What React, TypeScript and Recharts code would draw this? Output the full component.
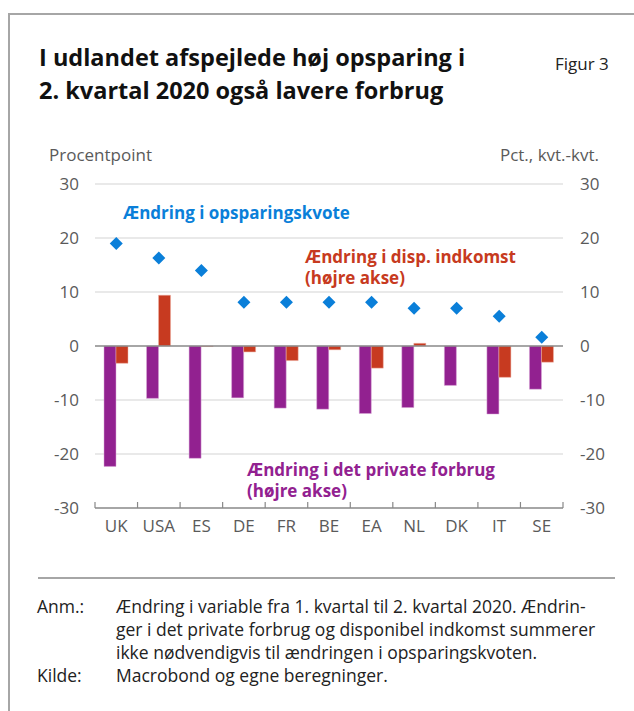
import React from "react";
import {
  ComposedChart,
  Bar,
  Line,
  XAxis,
  YAxis,
  CartesianGrid,
  ReferenceLine,
} from "recharts";

const countries = ["UK", "USA", "ES", "DE", "FR", "BE", "EA", "NL", "DK", "IT", "SE"];
// Ændring i opsparingskvote (venstre akse, procentpoint)
const savingsChange = [19.0, 16.3, 14.0, 8.1, 8.1, 8.1, 8.1, 7.0, 7.0, 5.5, 1.6];
// Ændring i det private forbrug (højre akse, pct. kvt.-kvt.)
const consumptionChange = [-22.3, -9.7, -20.8, -9.6, -11.5, -11.7, -12.5, -11.4, -7.3, -12.6, -8.0];
// Ændring i disp. indkomst (højre akse)
const incomeChange = [-3.2, 9.4, -0.1, -1.1, -2.7, -0.7, -4.1, 0.5, 0.0, -5.8, -3.0];
const yTicks = [-30, -20, -10, 0, 10, 20, 30];

const BLUE = "#0a7fd9";
const RED = "#c73a20";
const PURPLE = "#922190";
const GREY_TEXT = "#5a5a5a";
const FONT = "'Open Sans', 'DejaVu Sans', sans-serif";

const data = countries.map((c, i) => ({
  country: c,
  save: savingsChange[i],
  cons: consumptionChange[i],
  inc: incomeChange[i],
}));

const PLOT_LEFT = 95;
const PLOT_RIGHT = 563;
const HALF_BAND = (PLOT_RIGHT - PLOT_LEFT) / countries.length / 2;

const Diamond = (props: any) => {
  const { cx, cy } = props;
  if (cx == null || cy == null) return null;
  const r = 6.5;
  return (
    <polygon
      points={`${cx},${cy - r} ${cx + r},${cy} ${cx},${cy + r} ${cx - r},${cy}`}
      fill={BLUE}
    />
  );
};

const CountryTick = (props: any) => {
  const { x, y, payload, index } = props;
  const last = index === countries.length - 1;
  return (
    <g>
      <line x1={x - HALF_BAND} x2={x - HALF_BAND} y1={y - 14} y2={y - 8} stroke="#888" strokeWidth={1.2} />
      {last && (
        <line x1={x + HALF_BAND} x2={x + HALF_BAND} y1={y - 14} y2={y - 8} stroke="#888" strokeWidth={1.2} />
      )}
      <text x={x} y={y + 16} textAnchor="middle" fill={GREY_TEXT} fontSize={17} fontFamily={FONT}>
        {payload.value}
      </text>
    </g>
  );
};

export default function App() {
  const tickStyle = { fill: GREY_TEXT, fontSize: 17, fontFamily: FONT };
  return (
    <div
      style={{
        position: "absolute",
        left: 0,
        top: 0,
        width: 634,
        height: 711,
        background: "#fff",
        fontFamily: FONT,
        overflow: "hidden",
      }}
    >
      <div
        style={{
          position: "absolute",
          left: 8,
          top: 13,
          width: 640,
          height: 710,
          borderLeft: "2px solid #a6a6a6",
          borderTop: "2px solid #a6a6a6",
        }}
      />
      <div
        style={{
          position: "absolute",
          left: 39,
          top: 41,
          fontSize: 23.5,
          fontWeight: 700,
          lineHeight: "32.6px",
          color: "#111",
          whiteSpace: "nowrap",
        }}
      >
        I udlandet afspejlede høj opsparing i
        <br />
        2. kvartal 2020 også lavere forbrug
      </div>
      <div style={{ position: "absolute", left: 555, top: 52, fontSize: 17, lineHeight: "24px", color: "#222" }}>Figur 3</div>
      <div style={{ position: "absolute", left: 49, top: 143, fontSize: 17, lineHeight: "24px", color: GREY_TEXT }}>Procentpoint</div>
      <div style={{ position: "absolute", right: 35, top: 143, fontSize: 17, lineHeight: "24px", color: GREY_TEXT }}>Pct., kvt.-kvt.</div>

      <div style={{ position: "absolute", left: 0, top: 0 }}>
        <ComposedChart
          width={634}
          height={560}
          data={data}
          margin={{ top: 184, right: 0, bottom: 0, left: 0 }}
          barGap={0}
          barSize={12}
        >
          <CartesianGrid vertical={false} stroke="#d4d4d4" strokeWidth={1.2} horizontalValues={[-20, -10, 10, 20, 30]} yAxisId="left" />
          <XAxis
            dataKey="country"
            height={52}
            axisLine={{ stroke: "#888", strokeWidth: 1.5 }}
            tickLine={false}
            tick={<CountryTick />}
            interval={0}
          />
          <YAxis
            yAxisId="left"
            width={95}
            domain={[-30, 30]}
            ticks={yTicks}
            axisLine={false}
            tickLine={false}
            tickSize={0}
            tickMargin={16}
            tick={tickStyle}
          />
          <YAxis
            yAxisId="right"
            orientation="right"
            width={71}
            domain={[-30, 30]}
            ticks={yTicks}
            axisLine={false}
            tickLine={false}
            tickSize={0}
            tickMargin={17}
            tick={{ ...tickStyle, textAnchor: "start" }}
          />
          <ReferenceLine yAxisId="left" y={0} stroke="#888" strokeWidth={1.5} />
          <Bar yAxisId="right" dataKey="cons" fill={PURPLE} stroke="#d9a6d6" strokeWidth={0.5} isAnimationActive={false} />
          <Bar yAxisId="right" dataKey="inc" fill={RED} stroke="#eeb0a2" strokeWidth={0.5} isAnimationActive={false} />
          <Line
            yAxisId="left"
            dataKey="save"
            stroke="none"
            dot={<Diamond />}
            activeDot={false}
            isAnimationActive={false}
          />
        </ComposedChart>
      </div>

      <div style={{ position: "absolute", left: 123, top: 201, fontSize: 17, lineHeight: "24px", fontWeight: 700, color: BLUE, whiteSpace: "nowrap" }}>
        Ændring i opsparingskvote
      </div>
      <div style={{ position: "absolute", left: 305, top: 246, fontSize: 17, fontWeight: 700, color: RED, lineHeight: "21px", whiteSpace: "nowrap" }}>
        Ændring i disp. indkomst
        <br />
        (højre akse)
      </div>
      <div style={{ position: "absolute", left: 247, top: 459, fontSize: 17, fontWeight: 700, color: PURPLE, lineHeight: "21px", whiteSpace: "nowrap" }}>
        Ændring i det private forbrug
        <br />
        (højre akse)
      </div>

      <div style={{ position: "absolute", left: 38, top: 577, width: 577, borderTop: "2px solid #a6a6a6" }} />
      <div style={{ position: "absolute", left: 37, top: 595, fontSize: 17.5, color: "#222", lineHeight: "23px", whiteSpace: "nowrap" }}>
        <div style={{ display: "flex" }}>
          <div style={{ width: 79 }}>Anm.:</div>
          <div>
            Ændring i variable fra 1. kvartal til 2. kvartal 2020. Ændrin-
            <br />
            ger i det private forbrug og disponibel indkomst summerer
            <br />
            ikke nødvendigvis til ændringen i opsparingskvoten.
          </div>
        </div>
        <div style={{ display: "flex" }}>
          <div style={{ width: 79 }}>Kilde:</div>
          <div>Macrobond og egne beregninger.</div>
        </div>
      </div>
    </div>
  );
}
